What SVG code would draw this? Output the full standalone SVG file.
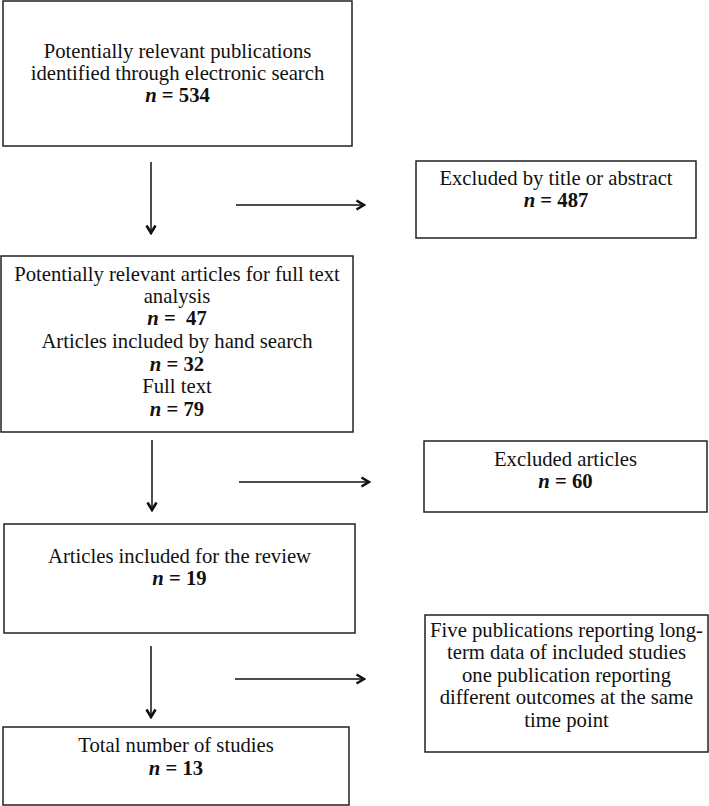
<svg xmlns="http://www.w3.org/2000/svg" width="709" height="806" viewBox="0 0 709 806">
<defs>
<style>
.box{fill:#fff;stroke:#222;stroke-width:1.5}
text{font-family:"Liberation Serif","Times New Roman",serif;font-size:20.7px;fill:#111;text-anchor:middle}
.b{font-weight:bold}
.i{font-style:italic;font-weight:bold}
.c{stroke:#111;stroke-width:1.5;fill:none}
</style>
<marker id="ah" viewBox="0 0 12 12" refX="10.5" refY="6" markerWidth="12" markerHeight="12" markerUnits="userSpaceOnUse" orient="auto">
<path d="M3,1.5 L10.5,6 L3,10.5" fill="none" stroke="#111" stroke-width="2.6" stroke-linejoin="miter"/>
</marker>
</defs>
<rect width="709" height="806" fill="#fff"/>
<g id="connectors">
<line class="c" x1="151" y1="162" x2="151" y2="233" marker-end="url(#ah)"/>
<line class="c" x1="236" y1="205" x2="364" y2="205" marker-end="url(#ah)"/>
<line class="c" x1="152" y1="440" x2="152" y2="510" marker-end="url(#ah)"/>
<line class="c" x1="239" y1="482" x2="369" y2="482" marker-end="url(#ah)"/>
<line class="c" x1="151" y1="646" x2="151" y2="717" marker-end="url(#ah)"/>
<line class="c" x1="235" y1="679" x2="364" y2="679" marker-end="url(#ah)"/>
</g>
<g id="n1">
<rect class="box" x="3" y="1" width="349" height="145"/>
<text x="177.5" y="58">Potentially relevant publications</text>
<text x="177.5" y="80">identified through electronic search</text>
<text x="177.5" y="102"><tspan class="i">n</tspan><tspan class="b"> = 534</tspan></text>
</g>
<g id="n2">
<rect class="box" x="416" y="161" width="280" height="77"/>
<text x="556" y="185">Excluded by title or abstract</text>
<text x="556" y="207"><tspan class="i">n</tspan><tspan class="b"> = 487</tspan></text>
</g>
<g id="n3">
<rect class="box" x="1" y="256" width="352" height="176"/>
<text x="177" y="281">Potentially relevant articles for full text</text>
<text x="177" y="303">analysis</text>
<text x="177" y="325"><tspan class="i">n</tspan><tspan class="b"> = &#160;47</tspan></text>
<text x="177" y="348">Articles included by hand search</text>
<text x="177" y="371"><tspan class="i">n</tspan><tspan class="b"> = 32</tspan></text>
<text x="177" y="393">Full text</text>
<text x="177" y="416"><tspan class="i">n</tspan><tspan class="b"> = 79</tspan></text>
</g>
<g id="n4">
<rect class="box" x="424" y="441" width="283" height="71"/>
<text x="565.5" y="466">Excluded articles</text>
<text x="565.5" y="488"><tspan class="i">n</tspan><tspan class="b"> = 60</tspan></text>
</g>
<g id="n5">
<rect class="box" x="4" y="524" width="351" height="109"/>
<text x="179.5" y="563">Articles included for the review</text>
<text x="179.5" y="585"><tspan class="i">n</tspan><tspan class="b"> = 19</tspan></text>
</g>
<g id="n6">
<rect class="box" x="3" y="727" width="346" height="78"/>
<text x="176" y="752">Total number of studies</text>
<text x="176" y="775"><tspan class="i">n</tspan><tspan class="b"> = 13</tspan></text>
</g>
<g id="n7">
<rect class="box" x="425" y="615" width="283" height="137"/>
<text x="566.5" y="637">Five publications reporting long-</text>
<text x="566.5" y="659">term data of included studies</text>
<text x="566.5" y="682">one publication reporting</text>
<text x="566.5" y="704">different outcomes at the same</text>
<text x="566.5" y="727">time point</text>
</g>
</svg>
